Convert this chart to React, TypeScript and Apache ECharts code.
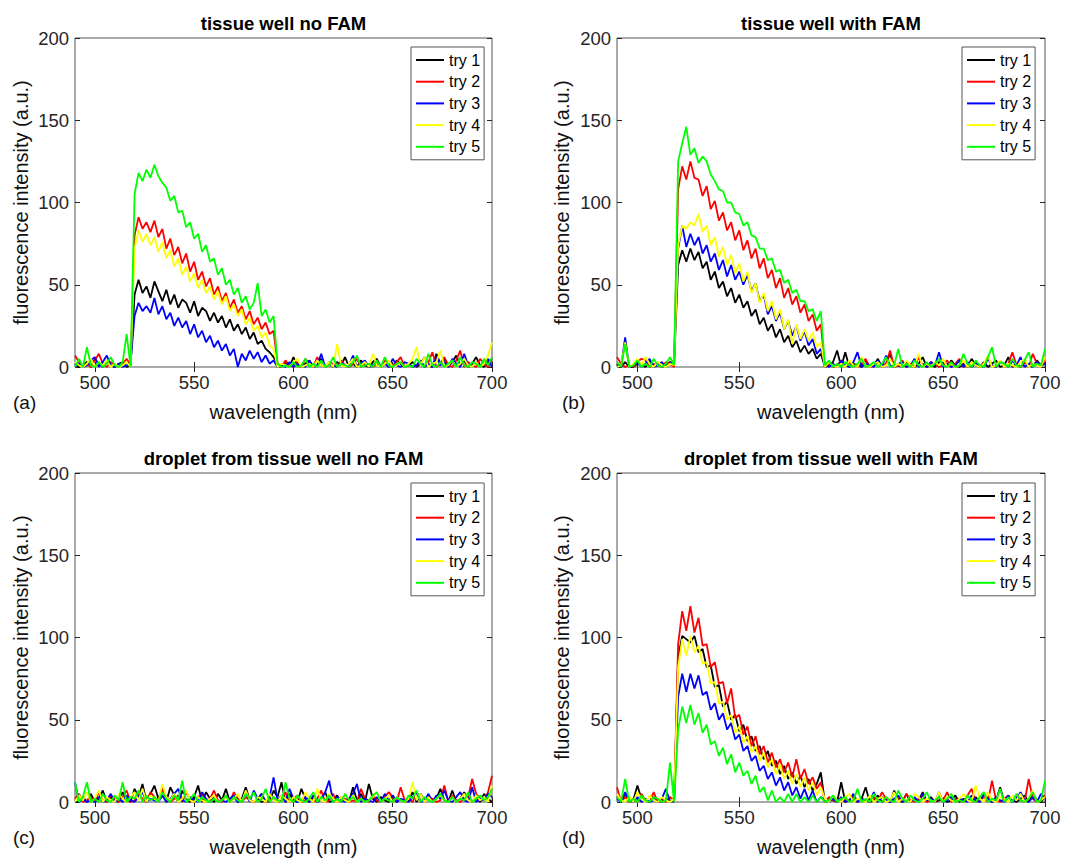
import React, { useEffect, useRef } from 'react';
import * as echarts from 'echarts';

// Sampling grid of the spectra (nm)
const WAVELENGTHS: number[] = Array.from({ length: 106 }, (_, i) => 490 + 2 * i);
const X_TICKS = [500, 550, 600, 650, 700];
const SERIES_NAMES = ['try 1', 'try 2', 'try 3', 'try 4', 'try 5'];
const SERIES_COLORS = ['#000000', '#ff0000', '#0000ff', '#ffff00', '#00ff00'];
const PANEL_TITLES = ['tissue well no FAM', 'tissue well with FAM', 'droplet from tissue well no FAM', 'droplet from tissue well with FAM'];
const PANEL_LETTERS = ['(a)', '(b)', '(c)', '(d)'];
const X_LABEL = 'wavelength (nm)';
const Y_LABEL = 'fluorescence intensity (a.u.)';

// (a) tissue well no FAM
const tissueNoFAM_try1 = [2,0,1,3,0, 5,2,0,4,1, 0,2,3,0,1,
  44,53,45,49,42, 52,46,40,47,38, 44,36,41,39,33, 40,31,36,34,28, 33,27,31,24,29, 22,26,20,24,17, 21,14,16,11,9, 6,
  1,0,3,0,6, 1,0,2,4,0, 1,5,0,2,0, 3,1,6,0,2, 0,4,1,0,3, 5,0,2,1,0, 4,2,0,1,3, 0,2,6,1,0, 8,2,5,0,3, 7,1,4,0,2, 6,1,0,3,5];
const tissueNoFAM_try2 = [7,3,0,2,0, 4,8,2,0,3, 1,0,2,5,1,
  80,91,84,88,82, 89,79,84,72,78, 68,73,63,69,58, 64,53,58,49,54, 44,49,40,45,36, 41,33,37,29,34, 26,30,23,27,20, 22,
  2,0,4,1,0, 3,0,5,2,0, 6,1,0,3,2, 0,4,1,0,2, 5,0,3,1,0, 2,0,4,0,1, 3,6,0,2,0, 1,4,0,3,9, 0,2,6,1,0, 4,10,0,3,1, 0,5,2,0,4];
const tissueNoFAM_try3 = [0,2,0,1,4, 6,0,3,7,1, 0,2,0,1,3,
  31,39,34,37,33, 42,32,37,29,33, 25,30,24,28,20, 26,18,22,15,19, 12,16,10,14,7, 11,0,8,4,10, 5,9,3,7,2, 4,
  0,1,0,3,0, 2,1,0,4,0, 1,8,0,2,1, 0,3,0,1,7, 0,2,4,0,1, 3,0,2,0,5, 1,0,3,2,0, 1,4,0,2,0, 6,1,3,0,5, 2,0,8,1,0, 3,0,2,5,0];
const tissueNoFAM_try4 = [3,1,0,2,5, 0,3,1,4,0, 2,0,1,3,0,
  72,83,76,81,74, 79,70,76,66,71, 61,66,56,61,52, 57,48,53,45,49, 41,46,38,43,34, 38,31,35,26,30, 22,25,18,21,13, 11,
  0,2,1,0,3, 5,0,1,2,0, 4,1,0,3,0, 14,1,0,2,5, 0,1,3,0,8, 1,0,2,4,0, 1,3,0,2,5, 12,1,6,0,2, 3,10,0,1,4, 0,2,5,1,0, 3,0,2,7,15];
const tissueNoFAM_try5 = [0,5,0,12,1, 0,3,0,2,6, 1,0,3,20,0,
  105,118,113,120,115, 123,116,112,109,101, 104,94,95,85,88, 78,81,70,74,64, 66,56,60,50,53, 44,48,39,43,35, 39,51,31,35,27, 31,
  2,0,1,0,3, 0,1,5,0,2, 0,4,0,1,6, 0,2,1,0,3, 7,0,1,2,0, 4,0,6,1,0, 2,3,0,1,0, 5,2,0,8,1, 0,3,0,2,4, 0,6,1,0,3, 2,0,5,1,6];

// (b) tissue well with FAM
const tissueFAM_try1 = [1,0,3,0,0, 2,1,0,4,0, 2,0,1,3,1,
  62,71,64,72,65, 70,60,64,53,58, 48,52,43,48,39, 44,36,40,31,35, 26,30,22,26,18, 23,15,19,12,16, 9,13,8,11,5, 8,
  0,1,3,10,0, 9,0,2,1,0, 4,0,1,5,0, 2,8,0,1,0, 3,1,0,2,6, 0,1,0,3,2, 0,4,1,0,2, 0,5,1,0,3, 0,2,4,0,1, 6,0,2,0,3, 1,0,4,1,2];
const tissueFAM_try2 = [6,2,0,1,0, 3,5,4,0,2, 1,0,3,2,0,
  108,122,114,125,115, 114,104,110,96,101, 89,94,83,88,77, 83,71,77,66,72, 60,66,54,59,48, 54,42,48,38,43, 33,38,28,32,22, 26,
  0,2,0,1,4, 0,3,1,0,2, 5,0,1,3,0, 2,10,0,1,4, 0,2,0,6,1, 0,3,2,0,1, 4,0,2,5,0, 1,0,3,0,2, 6,1,0,4,0, 2,9,1,0,3, 0,8,2,0,4];
const tissueFAM_try3 = [2,0,18,0,1, 3,0,2,5,0, 1,3,0,2,4,
  72,86,73,81,74, 79,69,74,64,69, 59,65,55,62,53, 58,50,56,46,51, 40,44,32,37,28, 33,23,28,19,25, 16,22,13,17,8, 11,
  1,0,2,0,4, 1,0,3,9,0, 2,1,0,4,0, 7,1,0,2,3, 0,1,5,0,2, 0,3,1,9,0, 2,0,1,4,0, 3,0,2,1,0, 5,1,0,3,2, 0,4,1,6,0, 2,0,3,1,2];
const tissueFAM_try4 = [0,1,15,0,2, 5,1,6,2,0, 3,1,0,2,1,
  74,86,84,88,86, 93,82,86,74,79, 67,73,62,68,57, 63,52,58,45,51, 39,45,34,40,29, 35,23,29,14,26, 17,23,16,21,12, 15,
  0,3,1,0,2, 0,4,1,0,6, 1,0,2,3,0, 1,5,0,2,0, 4,1,0,8,0, 2,0,3,1,5, 0,2,0,1,4, 0,3,1,0,2, 7,0,1,4,0, 2,1,0,3,5, 0,2,1,0,6];
const tissueFAM_try5 = [3,0,14,0,1, 4,0,2,0,5, 1,0,2,6,1,
  125,136,146,129,133, 124,128,125,117,113, 108,107,100,100,94, 93,86,88,80,79, 72,72,65,66,58, 59,51,53,45,47, 40,40,34,35,28, 34,
  1,4,0,2,0, 3,1,0,2,5, 0,1,3,0,2, 6,0,1,11,0, 2,0,4,1,0, 3,0,2,5,1, 0,3,0,1,8, 2,0,4,1,0, 6,12,0,3,2, 0,5,1,0,4, 9,0,2,1,11];

// (c) droplet from tissue well no FAM
const dropletNoFAM_try1 = [0,0,3,0,5, 0,2,7,0,3, 1,0,6,2,0, 8,3,11,0,5, 10,2,8,0,9, 4,0,7,1,0, 3,10,0,6,2,
  0,5,1,8,0, 3,0,2,9,1, 0,2,0,1,0, 7,3,12,0,5, 1,0,8,2,0, 3,0,2,6,0, 1,4,0,2,0, 9,1,5,0,11,
  2,0,3,1,0, 4,0,2,0,1, 6,0,5,1,3, 0,2,8,1,0, 7,0,2,6,1, 0,3,0,5,2, 0];
const dropletNoFAM_try2 = [2,5,0,1,3, 0,6,1,0,4, 2,0,3,7,0, 1,5,2,0,6, 3,0,8,1,0, 2,4,0,6,1, 0,3,5,0,2,
  7,1,0,4,0, 6,2,0,3,1, 0,2,5,0,1, 3,0,1,6,0, 2,4,0,1,3, 0,2,7,0,1, 5,0,3,2,0, 1,0,8,2,0,
  4,1,0,3,6, 3,0,9,1,2, 0,6,1,0,3, 2,0,1,10,0, 4,1,0,2,3, 14,5,2,1,6, 16];
const dropletNoFAM_try3 = [12,0,2,0,1, 0,3,0,1,5, 0,2,0,4,1, 0,3,6,0,2, 1,0,4,0,2, 5,8,1,0,3, 1,0,6,2,0,
  3,0,1,0,2, 4,0,1,6,0, 7,2,5,0,3, 15,1,4,0,8, 2,0,1,3,0, 4,0,2,6,13, 0,3,1,0,2, 5,11,0,2,1,
  0,3,0,5,1, 4,0,2,1,0, 3,6,0,1,5, 0,4,2,7,1, 0,3,6,1,0, 9,0,2,1,5, 3];
const dropletNoFAM_try4 = [0,4,1,6,0, 2,7,0,3,1, 0,5,2,0,3, 6,1,8,0,4, 2,0,11,3,1, 5,0,2,7,1, 0,3,1,0,2,
  4,0,1,3,0, 2,5,0,7,1, 0,3,2,0,5, 1,0,4,2,0, 3,1,0,6,2, 0,8,1,0,5, 2,0,3,1,0, 4,0,2,0,1,
  3,6,0,2,4, 0,3,1,0,2, 12,1,5,0,3, 0,2,4,1,0, 3,0,2,5,1, 0,4,1,3,0, 10];
const dropletNoFAM_try5 = [12,0,3,12,0, 2,0,5,1,0, 4,1,12,0,3, 2,7,0,4,1, 3,0,6,2,0, 4,1,13,0,2, 5,0,3,1,0,
  2,0,1,4,0, 3,1,0,5,2, 6,0,2,8,0, 3,1,0,12,2, 0,4,1,0,2, 6,0,3,1,4, 0,2,0,5,1, 3,0,2,0,1,
  4,6,0,2,1, 0,3,1,0,4, 2,7,0,3,1, 0,2,5,1,0, 3,0,2,1,6, 0,2,4,1,3, 8];

// (d) droplet from tissue well with FAM
const dropletFAM_try1 = [3,0,5,0,1, 10,2,1,0,3, 1,0,2,1,0,
  88,101,99,97,101, 91,93,82,83,70, 71,58,61,50,53, 43,47,37,40,31, 34,26,31,22,25, 17,22,14,18,11, 16,9,14,7,11, 18,
  0,2,1,0,12, 0,1,3,0,2, 9,0,1,4,0, 2,0,7,1,0, 5,0,2,1,6, 0,3,0,1,2, 0,1,4,0,2, 1,0,3,0,5, 2,0,1,9,0, 3,1,0,2,4, 0,6,1,0,3];
const dropletFAM_try2 = [9,0,3,0,2, 0,5,1,0,6, 0,2,0,3,1,
  96,116,104,119,103, 112,95,96,82,85, 72,73,60,69,51, 53,41,46,34,40, 29,34,24,30,21, 26,18,24,15,26, 14,20,11,15,8, 12,
  0,3,1,0,2, 0,1,4,0,2, 1,0,3,0,6, 2,0,1,3,0, 5,1,0,2,4, 0,1,0,3,1, 6,0,2,1,0, 4,8,0,1,3, 0,13,1,0,2, 4,0,3,1,0, 14,2,0,1,4];
const dropletFAM_try3 = [2,0,6,1,0, 3,0,2,0,1, 0,2,8,0,1,
  64,78,67,78,69, 77,65,67,56,60, 50,54,44,48,38, 41,31,34,25,28, 19,22,14,18,10, 15,7,12,4,9, 2,8,1,7,0, 3,
  1,0,2,0,3, 0,1,5,0,2, 1,0,6,0,3, 1,0,2,4,0, 1,0,3,0,5, 1,2,0,6,0, 1,3,0,2,1, 0,4,1,0,5, 2,0,3,1,0, 4,0,2,6,1, 0,3,0,5,2];
const dropletFAM_try4 = [5,1,0,3,0, 6,2,0,4,1, 0,3,1,0,2,
  82,99,89,101,91, 95,84,85,72,73, 60,61,50,53,42, 46,36,40,30,34, 25,30,21,26,17, 23,14,19,11,17, 9,15,7,12,4, 9,
  2,0,4,1,0, 3,5,0,2,1, 0,4,0,2,3, 0,1,6,0,2, 1,0,5,3,0, 2,1,0,6,0, 3,1,0,2,5, 1,0,10,2,0, 6,1,0,3,2, 0,4,1,5,0, 2,7,0,1,3];
const dropletFAM_try5 = [3,0,14,0,2, 0,4,1,0,3, 2,0,1,24,0,
  44,58,48,59,47, 54,42,47,35,37, 28,33,23,29,18, 24,16,19,11,16, 6,9,1,7,0, 3,0,5,0,5, 0,3,0,4,0, 3,
  0,1,4,0,2, 3,0,1,8,0, 2,0,5,1,0, 3,1,0,7,2, 0,4,1,0,2, 6,0,1,3,0, 2,5,0,1,0, 4,1,0,3,6, 0,2,1,8,0, 3,0,5,1,0, 2,6,0,1,13];

const PANEL_SERIES = [
  [tissueNoFAM_try1, tissueNoFAM_try2, tissueNoFAM_try3, tissueNoFAM_try4, tissueNoFAM_try5],
  [tissueFAM_try1, tissueFAM_try2, tissueFAM_try3, tissueFAM_try4, tissueFAM_try5],
  [dropletNoFAM_try1, dropletNoFAM_try2, dropletNoFAM_try3, dropletNoFAM_try4, dropletNoFAM_try5],
  [dropletFAM_try1, dropletFAM_try2, dropletFAM_try3, dropletFAM_try4, dropletFAM_try5],
];

const FONT = '"Liberation Sans", Arial, Helvetica, sans-serif';
const AXIS_COLOR = '#262626';
const BOX_COLOR = '#555555';

const GRIDS = [
  { left: 75, top: 38, width: 417, height: 329 },
  { left: 617, top: 38, width: 428, height: 329 },
  { left: 75, top: 473, width: 417, height: 329 },
  { left: 617, top: 473, width: 428, height: 329 },
];
const LEGEND_POS = [
  { left: 411, top: 47 },
  { left: 962, top: 47 },
  { left: 411, top: 483 },
  { left: 962, top: 483 },
];

function textEl(text: string, x: number, y: number, size: number, opts: any = {}) {
  const align = opts.align || 'center';
  return {
    type: 'text',
    x,
    y,
    rotation: opts.rotation || 0,
    silent: true,
    style: {
      text,
      fill: opts.color || '#000',
      fontSize: size,
      fontWeight: opts.bold ? 'bold' : 'normal',
      fontFamily: FONT,
      align,
      verticalAlign: 'middle',
      textAlign: align,
      textVerticalAlign: 'middle',
    },
  };
}

export default function App() {
  const ref = useRef<HTMLDivElement>(null);

  useEffect(() => {
    if (!ref.current) return;
    const chart = echarts.init(ref.current, null, { renderer: 'svg' });

    const xAxes: any[] = [];
    const yAxes: any[] = [];
    GRIDS.forEach((_, i) => {
      xAxes.push({
        gridIndex: i, type: 'value', min: 490, max: 700, position: 'bottom',
        axisLine: { show: false },
        axisTick: { show: true, inside: true, length: 5, customValues: X_TICKS, lineStyle: { color: AXIS_COLOR } },
        axisLabel: { customValues: X_TICKS, fontSize: 18.5, color: AXIS_COLOR, fontFamily: FONT, margin: 6 },
        splitLine: { show: false },
      });
      yAxes.push({
        gridIndex: i, type: 'value', min: 0, max: 200, interval: 50, position: 'left',
        axisLine: { show: false },
        axisTick: { show: true, inside: true, length: 5, lineStyle: { color: AXIS_COLOR } },
        axisLabel: { fontSize: 18.5, color: AXIS_COLOR, fontFamily: FONT, margin: 6 },
        splitLine: { show: false },
      });
    });
    GRIDS.forEach((_, i) => {
      xAxes.push({
        gridIndex: i, type: 'value', min: 490, max: 700, position: 'top',
        axisLine: { show: false },
        axisTick: { show: true, inside: true, length: 5, customValues: X_TICKS, lineStyle: { color: AXIS_COLOR } },
        axisLabel: { show: false },
        splitLine: { show: false },
      });
      yAxes.push({
        gridIndex: i, type: 'value', min: 0, max: 200, interval: 50, position: 'right',
        axisLine: { show: false },
        axisTick: { show: true, inside: true, length: 5, lineStyle: { color: AXIS_COLOR } },
        axisLabel: { show: false },
        splitLine: { show: false },
      });
    });

    const series: any[] = [];
    PANEL_SERIES.forEach((panel, p) => {
      panel.forEach((values, t) => {
        series.push({
          type: 'line',
          name: SERIES_NAMES[t],
          xAxisIndex: p,
          yAxisIndex: p,
          data: values.map((v, i) => [WAVELENGTHS[i], v]),
          showSymbol: false,
          symbol: 'none',
          silent: true,
          lineStyle: { width: 1.8, color: SERIES_COLORS[t] },
          itemStyle: { color: SERIES_COLORS[t] },
          emphasis: { disabled: true },
        });
      });
    });

    const graphics: any[] = [];
    GRIDS.forEach((g, i) => {
      const cx = g.left + g.width / 2;
      const cy = g.top + g.height / 2;
      const bottom = g.top + g.height;
      graphics.push(textEl(PANEL_TITLES[i], cx, g.top - 15, 18.5, { bold: true }));
      graphics.push(textEl(X_LABEL, cx, bottom + 45, 20, { color: '#111' }));
      graphics.push(textEl(Y_LABEL, i % 2 === 0 ? 21 : 562, cy, 20, { rotation: Math.PI / 2, color: '#111' }));
      graphics.push(textEl(PANEL_LETTERS[i], i % 2 === 0 ? 13 : 562, bottom + 35, 19, { align: 'left', color: '#111' }));
    });

    chart.setOption({
      animation: false,
      backgroundColor: '#ffffff',
      grid: GRIDS.map((g) => ({ ...g, show: true, borderColor: BOX_COLOR, borderWidth: 1, backgroundColor: 'transparent', containLabel: false })),
      xAxis: xAxes,
      yAxis: yAxes,
      legend: LEGEND_POS.map((pos) => ({
        ...pos,
        orient: 'vertical',
        data: SERIES_NAMES,
        icon: 'rect',
        itemWidth: 28,
        itemHeight: 2,
        itemGap: 1.7,
        padding: [3, 4, 3, 5],
        borderColor: BOX_COLOR,
        borderWidth: 1,
        borderRadius: 0,
        backgroundColor: '#ffffff',
        selectedMode: false,
        textStyle: { fontSize: 16, color: '#000', fontFamily: FONT, lineHeight: 20 },
      })),
      graphic: graphics,
      series,
    });

    return () => chart.dispose();
  }, []);

  return <div ref={ref} style={{ position: 'absolute', left: 0, top: 0, width: 1066, height: 858 }} />;
}
